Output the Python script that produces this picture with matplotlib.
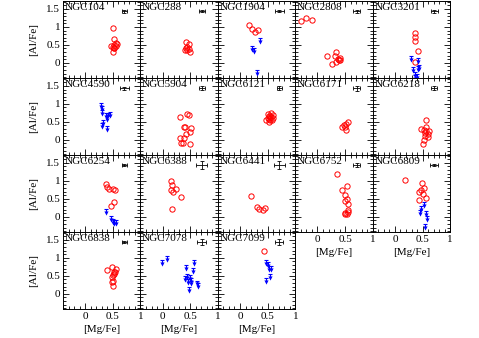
import matplotlib
matplotlib.use('Agg')
import matplotlib.pyplot as plt
from matplotlib.ticker import MultipleLocator

plt.rcParams['font.family'] = ['Liberation Serif', 'DejaVu Serif']
plt.rcParams['font.size'] = 8

# [Mg/Fe], [Al/Fe] measurements (red circles) and upper limits (blue arrows)
ngc104_mg = [0.50, 0.53, 0.47, 0.50, 0.53, 0.55, 0.57, 0.52, 0.55, 0.50, 0.53]
ngc104_al = [0.97, 0.67, 0.47, 0.45, 0.50, 0.55, 0.53, 0.42, 0.47, 0.30, 0.40]
ngc288_mg = [0.42, 0.47, 0.45, 0.40, 0.44, 0.48, 0.49, 0.43]
ngc288_al = [0.57, 0.52, 0.44, 0.37, 0.35, 0.38, 0.30, 0.40]
ngc1904_mg = [0.16, 0.22, 0.27, 0.32]
ngc1904_al = [1.06, 0.94, 0.85, 0.92]
ngc1904_lim_mg = [0.36, 0.21, 0.25, 0.31]
ngc1904_lim_al = [0.68, 0.46, 0.42, -0.21]
ngc2808_mg = [-0.30, -0.20, -0.10, 0.18, 0.34, 0.31, 0.37, 0.40, 0.38, 0.27, 0.34, 0.41]
ngc2808_al = [1.16, 1.25, 1.20, 0.18, 0.30, 0.18, 0.11, 0.14, 0.08, -0.03, 0.02, 0.07]
ngc3201_mg = [0.36, 0.36, 0.36, 0.41, 0.37]
ngc3201_al = [0.83, 0.73, 0.60, 0.34, 0.02]
ngc3201_lim_mg = [0.29, 0.42, 0.32, 0.42, 0.37, 0.36, 0.40, 0.43]
ngc3201_lim_al = [0.18, 0.13, -0.12, -0.10, -0.25, -0.35, -0.30, -0.05]
ngc4590_lim_mg = [0.28, 0.30, 0.30, 0.38, 0.42, 0.45, 0.39, 0.33, 0.31, 0.40]
ngc4590_lim_al = [1.02, 0.93, 0.83, 0.74, 0.76, 0.77, 0.67, 0.54, 0.46, 0.39]
ngc5904_mg = [0.31, 0.45, 0.47, 0.39, 0.41, 0.52, 0.50, 0.43, 0.31, 0.38, 0.34, 0.37, 0.49]
ngc5904_al = [0.63, 0.71, 0.69, 0.37, 0.35, 0.32, 0.23, 0.16, 0.06, 0.06, -0.09, -0.09, -0.12]
ngc6121_mg = [0.50, 0.56, 0.59, 0.50, 0.53, 0.56, 0.60, 0.47, 0.52, 0.54, 0.58, 0.52, 0.55]
ngc6121_al = [0.71, 0.74, 0.69, 0.60, 0.57, 0.63, 0.60, 0.56, 0.51, 0.67, 0.56, 0.65, 0.54]
ngc6171_mg = [0.45, 0.48, 0.51, 0.56, 0.52, 0.49]
ngc6171_al = [0.37, 0.40, 0.44, 0.49, 0.28, 0.37]
ngc6218_mg = [0.56, 0.56, 0.48, 0.53, 0.57, 0.62, 0.55, 0.59, 0.55, 0.53, 0.51, 0.60]
ngc6218_al = [0.56, 0.37, 0.31, 0.28, 0.26, 0.25, 0.20, 0.17, 0.11, 0.00, -0.12, 0.09]
ngc6254_mg = [0.38, 0.39, 0.43, 0.51, 0.54, 0.47, 0.53]
ngc6254_al = [0.92, 0.83, 0.78, 0.78, 0.76, 0.30, 0.41]
ngc6254_lim_mg = [0.38, 0.47, 0.50, 0.53, 0.55]
ngc6254_lim_al = [0.22, 0.02, -0.05, -0.08, -0.10]
ngc6388_mg = [0.16, 0.17, 0.16, 0.24, 0.19, 0.34, 0.17]
ngc6388_al = [0.99, 0.88, 0.76, 0.78, 0.69, 0.56, 0.23]
ngc6441_mg = [0.20, 0.31, 0.34, 0.42, 0.45]
ngc6441_al = [0.57, 0.27, 0.22, 0.19, 0.25]
ngc6752_mg = [0.36, 0.53, 0.45, 0.50, 0.53, 0.49, 0.56, 0.56, 0.49, 0.53, 0.50, 0.56]
ngc6752_al = [1.19, 0.85, 0.74, 0.60, 0.50, 0.44, 0.36, 0.19, 0.11, 0.08, 0.09, 0.13]
ngc6809_mg = [0.19, 0.49, 0.53, 0.43, 0.47, 0.50, 0.43, 0.56]
ngc6809_al = [1.02, 0.93, 0.79, 0.69, 0.74, 0.64, 0.48, 0.51]
ngc6809_lim_mg = [0.53, 0.48, 0.45, 0.56, 0.58, 0.55]
ngc6809_lim_al = [0.42, 0.30, 0.19, 0.16, 0.02, -0.20]
ngc6838_mg = [0.48, 0.40, 0.53, 0.55, 0.51, 0.48, 0.53, 0.50, 0.49, 0.50, 0.54]
ngc6838_al = [0.74, 0.65, 0.62, 0.68, 0.51, 0.48, 0.56, 0.37, 0.32, 0.23, 0.60]
ngc7078_lim_mg = [-0.01, 0.08, 0.43, 0.57, 0.55, 0.44, 0.49, 0.46, 0.51, 0.48, 0.62, 0.64, 0.52, 0.41]
ngc7078_lim_al = [0.95, 1.04, 0.81, 0.93, 0.72, 0.56, 0.53, 0.42, 0.37, 0.19, 0.37, 0.29, 0.44, 0.50]
ngc7099_mg = [0.44]
ngc7099_al = [1.20]
ngc7099_lim_mg = [0.47, 0.50, 0.52, 0.56, 0.47, 0.54]
ngc7099_lim_al = [0.95, 0.88, 0.77, 0.76, 0.43, 0.54]

# typical error bars (x, y) per cluster
err_x = [0.04, 0.05, 0.08, 0.06, 0.06, 0.08, 0.05, 0.05, 0.06,
         0.05, 0.04, 0.10, 0.10, 0.06, 0.07, 0.04, 0.08, 0.07]
err_y = [0.04, 0.03, 0.03, 0.04, 0.04, 0.04, 0.05, 0.05, 0.07,
         0.06, 0.04, 0.10, 0.12, 0.05, 0.04, 0.04, 0.08, 0.08]

names = ['NGC104', 'NGC288', 'NGC1904', 'NGC2808', 'NGC3201',
         'NGC4590', 'NGC5904', 'NGC6121', 'NGC6171', 'NGC6218',
         'NGC6254', 'NGC6388', 'NGC6441', 'NGC6752', 'NGC6809',
         'NGC6838', 'NGC7078', 'NGC7099']

detections = [(ngc104_mg, ngc104_al), (ngc288_mg, ngc288_al), (ngc1904_mg, ngc1904_al),
              (ngc2808_mg, ngc2808_al), (ngc3201_mg, ngc3201_al), ([], []),
              (ngc5904_mg, ngc5904_al), (ngc6121_mg, ngc6121_al), (ngc6171_mg, ngc6171_al),
              (ngc6218_mg, ngc6218_al), (ngc6254_mg, ngc6254_al), (ngc6388_mg, ngc6388_al),
              (ngc6441_mg, ngc6441_al), (ngc6752_mg, ngc6752_al), (ngc6809_mg, ngc6809_al),
              (ngc6838_mg, ngc6838_al), ([], []), (ngc7099_mg, ngc7099_al)]
limits = {'NGC1904': (ngc1904_lim_mg, ngc1904_lim_al),
          'NGC3201': (ngc3201_lim_mg, ngc3201_lim_al),
          'NGC4590': (ngc4590_lim_mg, ngc4590_lim_al),
          'NGC6254': (ngc6254_lim_mg, ngc6254_lim_al),
          'NGC6809': (ngc6809_lim_mg, ngc6809_lim_al),
          'NGC7078': (ngc7078_lim_mg, ngc7078_lim_al),
          'NGC7099': (ngc7099_lim_mg, ngc7099_lim_al)}

fig, axes = plt.subplots(4, 5, figsize=(4.79, 3.38), dpi=100)
fig.subplots_adjust(left=0.1315, right=0.94, top=0.997, bottom=0.086,
                    wspace=0, hspace=0)

arrow = 0.11
for i, ax in enumerate(axes.flat):
    if i >= len(names):
        ax.set_visible(False)
        continue
    row, col = divmod(i, 5)
    name = names[i]
    mg, al = detections[i]
    ax.plot(mg, al, 'o', mfc='none', mec='red', ms=3.8, mew=0.7)
    if name in limits:
        lmg, lal = limits[name]
        ax.vlines(lmg, [a - arrow for a in lal], lal, color='blue', lw=0.8)
        ax.plot(lmg, lal, '_', color='blue', ms=3.5, mew=0.8)
        ax.plot(lmg, [a - arrow for a in lal], 'v', color='blue', ms=3.0, mew=0)
    ax.errorbar(0.71, 1.44, xerr=err_x[i], yerr=err_y[i], fmt='none',
                ecolor='black', elinewidth=0.6, capsize=1.2, capthick=0.6)
    ax.text(0.02, 0.97, name, transform=ax.transAxes, ha='left', va='top', fontsize=8)
    ax.set_xlim(-0.4, 1.0)
    ax.set_ylim(-0.42, 1.72)
    ax.xaxis.set_major_locator(MultipleLocator(0.5))
    ax.xaxis.set_minor_locator(MultipleLocator(0.1))
    ax.yaxis.set_major_locator(MultipleLocator(0.5))
    ax.yaxis.set_minor_locator(MultipleLocator(0.1))
    ax.tick_params(which='both', direction='in', top=True, right=True, width=0.6, pad=2)
    ax.tick_params(which='major', length=4)
    ax.tick_params(which='minor', length=2)
    for s in ax.spines.values():
        s.set_linewidth(0.7)
    if col == 0:
        ax.set_yticks([0, 0.5, 1, 1.5])
        ax.set_yticklabels(['0', '0.5', '1', '1.5'])
        ax.set_ylabel('[Al/Fe]', labelpad=6)
    else:
        ax.set_yticklabels([])
    if i + 5 >= len(names):
        ax.set_xticks([0, 0.5, 1])
        ax.set_xticklabels(['0', '0.5', '1'])
        ax.set_xlabel('[Mg/Fe]', labelpad=3)
    else:
        ax.set_xticklabels([])

plt.savefig('out.png', dpi=100)
